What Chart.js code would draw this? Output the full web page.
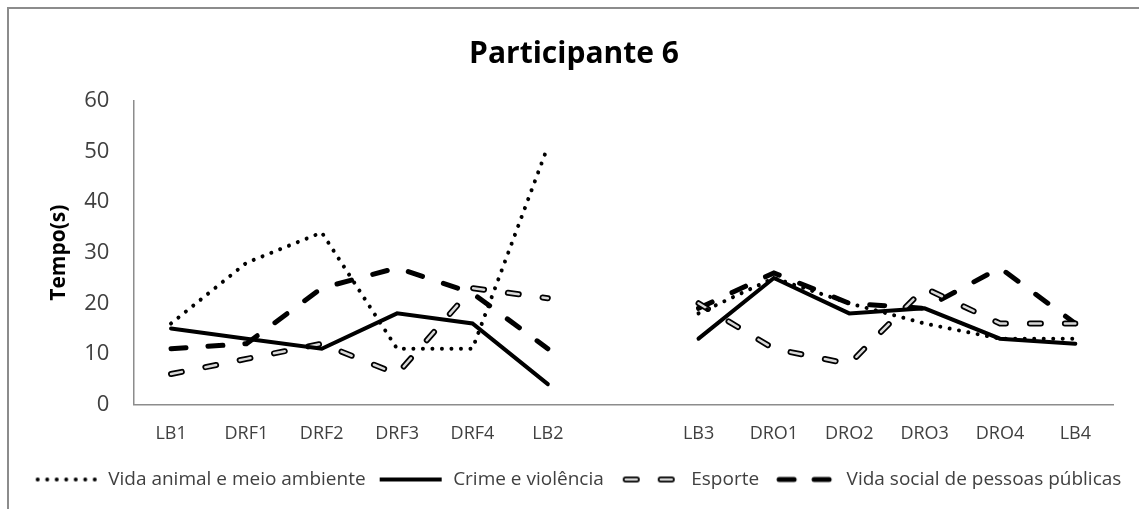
<!DOCTYPE html>
<html>
<head>
<meta charset="utf-8">
<script src="https://cdn.jsdelivr.net/npm/chart.js@4.4.1/dist/chart.umd.min.js"></script>
<style>
  html, body { margin: 0; padding: 0; background: #fff; overflow: hidden; }
  #frame { position: absolute; left: 7px; top: 7px; width: 1200px; height: 600px; border: 2px solid #8c8c8c; }
  #wrap { position: absolute; left: 0; top: 0; width: 1139px; height: 509px; }
</style>
</head>
<body>
<div id="frame"></div>
<div id="wrap"><canvas id="myChart" width="1139" height="509"></canvas></div>
<script>
// categories (empty slot separates the two phases)
const labels = ["LB1", "DRF1", "DRF2", "DRF3", "DRF4", "LB2", "", "LB3", "DRO1", "DRO2", "DRO3", "DRO4", "LB4"];

// series values (seconds)
const vidaAnimal = [16, 28, 34, 11, 11, 51, null, 18, 25, 20, 16, 13, 13];
const crime      = [15, 13, 11, 18, 16, 4,  null, 13, 25, 18, 19, 13, 12];
const esporte    = [6,  9,  12, 6,  23, 21, null, 20, 11, 8,  23, 16, 16];
const vidaSocial = [11, 12, 23, 27, 22, 11, null, 19, 26, 20, 19, 27, 16];

const yTicks = [0, 10, 20, 30, 40, 50, 60];

const textGray = "#404040";
const font = "'Open Sans'";

// little canvases used as legend samples (8px blank on the left, 2px on the right)
function sample(draw) {
    const c = document.createElement("canvas");
    c.width = 72;
    c.height = 14;
    const g = c.getContext("2d");
    g.translate(8, 0);
    g.lineCap = "round";
    draw(g);
    return c;
}

function seg(g, x1, x2) {
    g.beginPath();
    g.moveTo(x1, 7);
    g.lineTo(x2, 7);
    g.stroke();
}

const legendImgs = [
    sample(function(g) {
        g.strokeStyle = "#000";
        g.lineWidth = 4;
        g.setLineDash([0.01, 9.5]);
        seg(g, 3, 62);
    }),
    sample(function(g) {
        g.strokeStyle = "#000";
        g.lineWidth = 4;
        g.lineCap = "butt";
        seg(g, 0, 62);
    }),
    sample(function(g) {
        g.strokeStyle = "#000";
        g.lineWidth = 6;
        seg(g, 8, 19);
        seg(g, 43, 54);
        g.strokeStyle = "#d9d9d9";
        g.lineWidth = 2.5;
        seg(g, 8, 19);
        seg(g, 43, 54);
    }),
    sample(function(g) {
        g.strokeStyle = "#000";
        g.lineWidth = 5;
        seg(g, 6, 21);
        seg(g, 41, 56);
    })
];

const ctx = document.getElementById("myChart").getContext("2d");
const myChart = new Chart(ctx, {
    type: "line",
    data: {
        labels: labels,
        datasets: [
            {
                label: "Vida animal e meio ambiente",
                data: vidaAnimal,
                borderColor: "#000",
                borderWidth: 4,
                borderDash: [0.01, 9.5],
                borderCapStyle: "round"
            },
            {
                label: "Crime e violência",
                data: crime,
                borderColor: "#000",
                borderWidth: 4,
                borderCapStyle: "round"
            },
            {
                label: "Esporte",
                data: esporte,
                borderColor: "#d9d9d9",
                borderWidth: 2.5,
                borderDash: [11, 24],
                borderCapStyle: "round"
            },
            {
                label: "Esporte (contorno)",
                data: esporte,
                borderColor: "#000",
                borderWidth: 6,
                borderDash: [11, 24],
                borderCapStyle: "round"
            },
            {
                label: "Vida social de pessoas públicas",
                data: vidaSocial,
                borderColor: "#000",
                borderWidth: 5,
                borderDash: [15, 22],
                borderCapStyle: "round"
            }
        ]
    },
    options: {
        responsive: false,
        animation: false,
        events: [],
        spanGaps: false,
        elements: {
            point: { radius: 0 },
            line: { tension: 0 }
        },
        layout: {
            padding: { left: 9, right: 0, top: 0, bottom: 10 }
        },
        plugins: {
            title: {
                display: true,
                text: "Participante 6",
                color: "#000",
                font: { family: font, size: 30, weight: "bold" },
                padding: { top: 36, bottom: 29 }
            },
            legend: {
                position: "bottom",
                labels: {
                    usePointStyle: true,
                    pointStyleWidth: 72,
                    padding: 6,
                    color: textGray,
                    font: { family: font, size: 19 },
                    generateLabels: function(chart) {
                        const order = [0, 1, 2, 4];
                        return order.map(function(i, k) {
                            return {
                                text: chart.data.datasets[i].label,
                                pointStyle: legendImgs[k],
                                fontColor: textGray,
                                datasetIndex: i,
                                lineWidth: 0,
                                strokeStyle: "transparent",
                                fillStyle: "transparent"
                            };
                        });
                    }
                }
            },
            tooltip: { enabled: false }
        },
        scales: {
            x: {
                offset: true,
                grid: { display: false, drawTicks: false },
                border: { display: true, color: "#8c8c8c", width: 1.5 },
                ticks: {
                    color: textGray,
                    font: { family: font, size: 18 },
                    padding: 19,
                    autoSkip: false,
                    maxRotation: 0
                }
            },
            y: {
                min: 0,
                max: 60,
                grid: { display: false, drawTicks: false },
                border: { display: true, color: "#8c8c8c", width: 1.5 },
                afterBuildTicks: function(axis) {
                    axis.ticks = yTicks.map(function(v) { return { value: v }; });
                },
                ticks: {
                    color: textGray,
                    font: { family: font, size: 22 },
                    padding: 24
                },
                title: {
                    display: true,
                    text: "Tempo(s)",
                    color: "#000",
                    font: { family: font, size: 21, weight: "bold" },
                    padding: { top: 37, bottom: -11 }
                }
            },
            // empty right-hand spacer so the plot ends where the reference does
            y2: {
                position: "right",
                grid: { display: false, drawTicks: false },
                border: { display: false },
                ticks: { display: false },
                afterFit: function(scale) {
                    scale.width = 26;
                }
            }
        }
    }
});
</script>
</body>
</html>
